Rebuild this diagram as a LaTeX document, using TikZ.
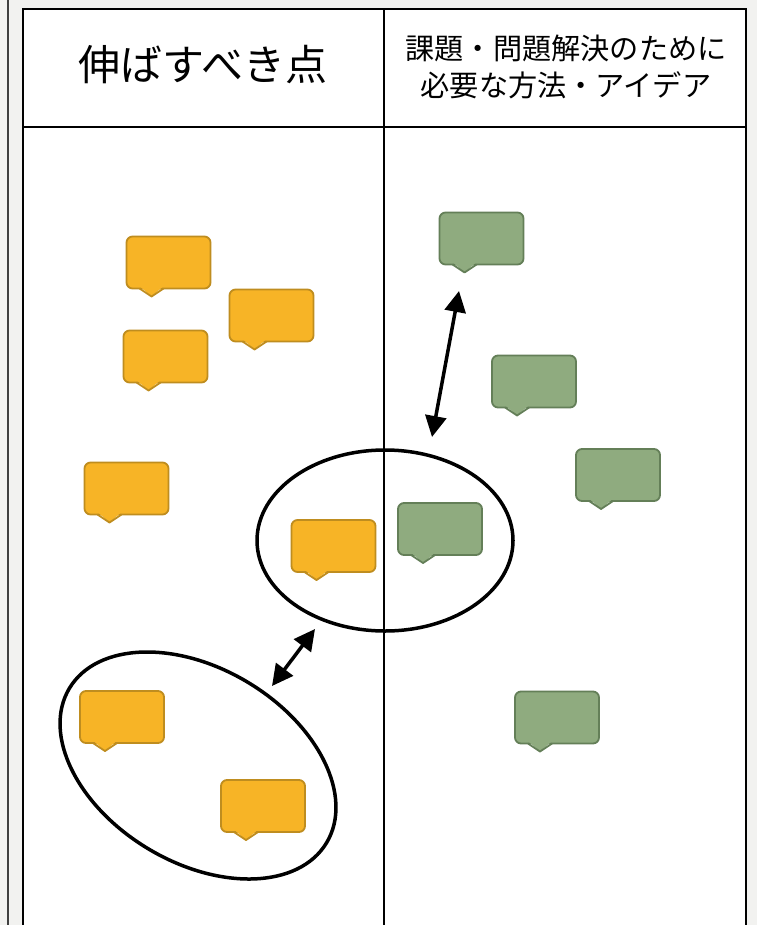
\documentclass[tikz,border=0pt]{standalone}
\usepackage{fontspec}
\setmainfont{Noto Sans CJK JP}
\usetikzlibrary{calc,arrows.meta}
\definecolor{bgc}{HTML}{F2F2F0}
\definecolor{ofill}{HTML}{F7B426}
\definecolor{ostroke}{HTML}{BF8D1F}
\definecolor{gfill}{HTML}{8FAB7F}
\definecolor{gstroke}{HTML}{647F58}
\tikzset{
  bub/.style={rectangle, rounded corners=6pt, minimum width=84pt, minimum height=52pt, line width=1.8pt, outer sep=0pt, inner sep=0pt},
  obox/.style={bub, fill=ofill, draw=ostroke},
  gbox/.style={bub, fill=gfill, draw=gstroke},
  ring/.style={line width=3.5pt, draw=black},
  dbl/.style={line width=3.5pt, {Triangle[length=21pt,width=21pt]}-{Triangle[length=21pt,width=21pt]}},
  frame/.style={line width=1.8pt, black},
  hdrL/.style={font=\fontsize{42}{46}\selectfont, inner sep=0pt},
  hdrR/.style={font=\fontsize{29.2}{36.5}\selectfont, align=center, inner sep=0pt}
}
% #1 name, #2 x, #3 y, #4 colour prefix (o/g)
\newcommand\bubble[4]{%
  \node[#4box] (#1) at (#2,#3) {};
  \fill[#4fill] ($(#1.south west)+(14,-1.5)$) -- ($(#1.south west)+(25,8)$) -- ($(#1.south west)+(36,-1.5)$) -- cycle;
  \draw[#4stroke, line width=1.8pt, line join=round] ($(#1.south west)+(13,0)$) -- ($(#1.south west)+(25,8)$) -- ($(#1.south west)+(37,0)$);
}
\begin{document}
\begin{tikzpicture}[x=1pt,y=-1pt]
\useasboundingbox (0,0) rectangle (757,925);
\fill[bgc] (0,0) rectangle (757,925);
\draw[line width=2pt, black!75] (7.5,0) -- (7.5,925);
\fill[white] (23,9) rectangle (746,930);
\draw[frame] (23,930) -- (23,9) -- (746,9) -- (746,930);
\draw[frame] (23,127) -- (746,127);
\draw[frame] (384,9) -- (384,930);
\node[hdrL] (hl) at (203,65) {伸ばすべき点};
\node[hdrR] (hr) at (566,67) {課題・問題解決のために\\必要な方法・アイデア};
% ellipses
\draw[ring] (385,540.5) ellipse [x radius=128, y radius=90.5];
\draw[ring, rotate around={-31:(198,765.5)}] (198,765.5) ellipse [x radius=150, y radius=97];
% orange bubbles
\bubble{o1}{168.5}{262.5}{o}
\bubble{o2}{271.5}{315.5}{o}
\bubble{o3}{165.5}{356.5}{o}
\bubble{o4}{126.5}{488.5}{o}
\bubble{o5}{333.5}{546}{o}
\bubble{o6}{122}{717}{o}
\bubble{o7}{263}{806}{o}
% green bubbles
\bubble{g1}{481.5}{238.5}{g}
\bubble{g2}{534}{381.5}{g}
\bubble{g3}{618}{475}{g}
\bubble{g4}{440}{529}{g}
\bubble{g5}{557}{717.5}{g}
% arrows
\coordinate (a1t) at (459,291);
\coordinate (a1b) at (432,437);
\coordinate (a2t) at (315,629);
\coordinate (a2b) at (272,686);
\draw[dbl] (a1b) -- (a1t);
\draw[dbl] (a2b) -- (a2t);
\end{tikzpicture}
\end{document}
